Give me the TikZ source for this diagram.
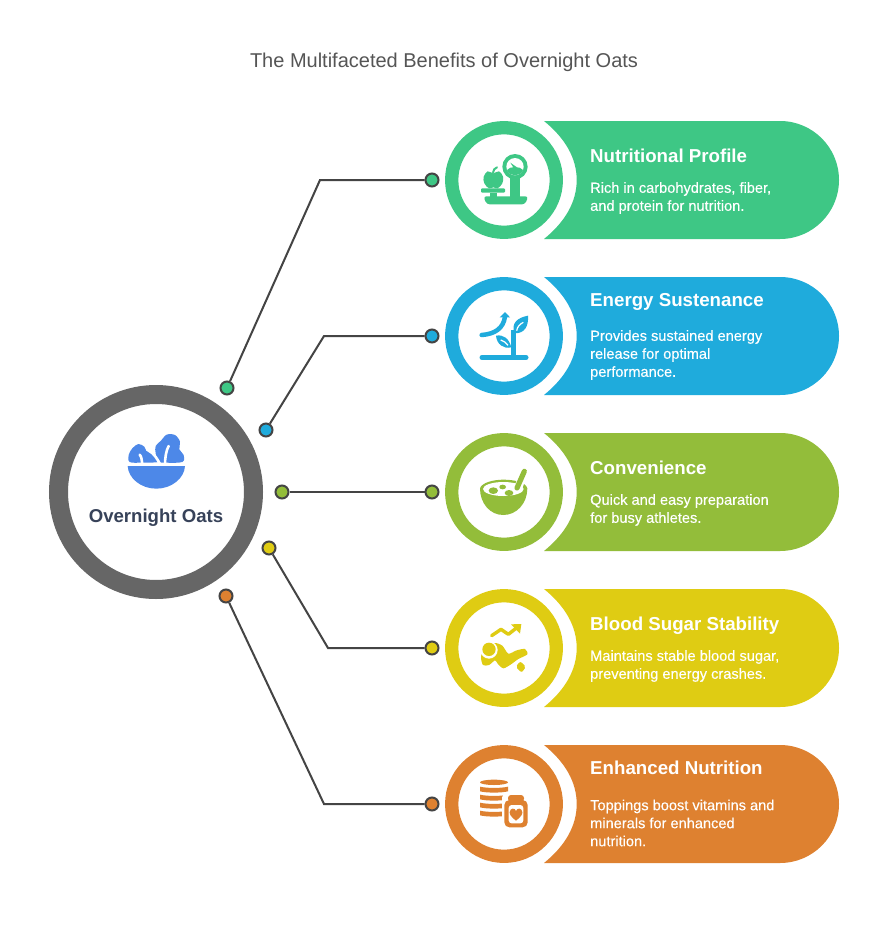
\documentclass[tikz,border=0pt]{standalone}
\usepackage{fontspec}
\setmainfont{Liberation Sans}
\definecolor{cgreen}{HTML}{3EC785}
\definecolor{cblue}{HTML}{1FABDC}
\definecolor{colive}{HTML}{93BD3A}
\definecolor{cyell}{HTML}{DFCC13}
\definecolor{corange}{HTML}{DE8130}
\definecolor{cring}{HTML}{666666}
\definecolor{cline}{HTML}{444444}
\definecolor{cbowl}{HTML}{4D88E8}
\definecolor{cnavy}{HTML}{374259}
\definecolor{ctitle}{HTML}{555555}
\tikzset{
  conn/.style={draw=cline,line width=2pt},
  dotnode/.style={circle,draw=cline,line width=2pt,minimum size=13pt,inner sep=0pt},
  headtxt/.style={anchor=base west,text=white,inner sep=0pt,font=\fontsize{18.7}{22}\selectfont\bfseries},
  desctxt/.style={anchor=west,text=white,inner sep=0pt,align=left,font=\fontsize{14.6}{18}\selectfont\addfontfeature{FakeBold=0.25}},
}
\newcommand{\benefit}[2]{%
  \fill[#1] (544,#2-59) -- (780,#2-59) arc[start angle=-90,end angle=90,radius=59]
     -- (544,#2+59) .. controls (565,#2+42) and (576.7,#2+22) .. (576.7,#2)
     .. controls (576.7,#2-22) and (565,#2-42) .. (544,#2-59) -- cycle;
  \draw[#1,line width=13.3pt] (504,#2) circle (52.3);
}
\begin{document}
\begin{tikzpicture}[x=1pt,y=-1pt]
\useasboundingbox (0,0) rectangle (888,942);
\fill[white] (0,0) rectangle (888,942);
\node[text=ctitle,font=\fontsize{20}{24}\selectfont] (title) at (444,62) {The Multifaceted Benefits of Overnight Oats};

% central ring
\draw[cring,line width=19pt] (156,492) circle (97.5);
\node[text=cnavy,font=\fontsize{18.6}{22}\selectfont\bfseries] (centre) at (156,518) {Overnight Oats};

% salad icon
\begin{scope}[shift={(125,430)},x=0.33333pt,y=-0.33333pt]
\fill[cbowl] (8,108) -- (180,108) .. controls (178,145) and (140,176) .. (94,176) .. controls (48,176) and (10,145) .. (8,108) -- cycle;
\fill[cbowl] plot[smooth cycle,tension=0.55] coordinates {(14,96) (11,75) (22,55) (40,42) (58,50) (64,63) (82,72) (92,84) (100,96) (50,98)};
\fill[cbowl] plot[smooth cycle,tension=0.55] coordinates {(92,70) (92,48) (108,32) (125,14) (150,15) (165,35) (163,58) (176,75) (172,96) (120,98) (100,95)};
\draw[white,line width=2.6pt,line cap=round] (72,62) .. controls (88,72) and (96,85) .. (106,104);
\draw[white,line width=2.6pt,line cap=round] (44,74) .. controls (50,80) and (50,90) .. (52,104);
\draw[white,line width=2.6pt,line cap=round] (131,48) .. controls (123,62) and (120,85) .. (120,104);
\end{scope}

% benefit shapes
\benefit{cgreen}{180}
\benefit{cblue}{336}
\benefit{colive}{492}
\benefit{cyell}{648}
\benefit{corange}{804}

% texts
\node[headtxt] (h1) at (590,162) {Nutritional Profile};
\node[desctxt] (d1) at (590,198) {Rich in carbohydrates, fiber,\\and protein for nutrition.};
\node[headtxt] (h2) at (590,306) {Energy Sustenance};
\node[desctxt] (d2) at (590,355) {Provides sustained energy\\release for optimal\\performance.};
\node[headtxt] (h3) at (590,474) {Convenience};
\node[desctxt] (d3) at (590,510) {Quick and easy preparation\\for busy athletes.};
\node[headtxt] (h4) at (590,630) {Blood Sugar Stability};
\node[desctxt] (d4) at (590,666) {Maintains stable blood sugar,\\preventing energy crashes.};
\node[headtxt] (h5) at (590,774) {Enhanced Nutrition};
\node[desctxt] (d5) at (590,823) {Toppings boost vitamins and\\minerals for enhanced\\nutrition.};

% connectors
\node[dotnode,fill=cgreen] (a1) at (227,388) {};
\node[dotnode,fill=cgreen] (b1) at (432,180) {};
\coordinate (k1) at (320,180);
\node[dotnode,fill=cblue] (a2) at (266,430) {};
\node[dotnode,fill=cblue] (b2) at (432,336) {};
\coordinate (k2) at (324,336);
\node[dotnode,fill=colive] (a3) at (282,492) {};
\node[dotnode,fill=colive] (b3) at (432,492) {};
\node[dotnode,fill=cyell] (a4) at (269,548) {};
\node[dotnode,fill=cyell] (b4) at (432,648) {};
\coordinate (k4) at (328,648);
\node[dotnode,fill=corange] (a5) at (226,596) {};
\node[dotnode,fill=corange] (b5) at (432,804) {};
\coordinate (k5) at (324,804);
\draw[conn] (a1) -- (k1) -- (b1);
\draw[conn] (a2) -- (k2) -- (b2);
\draw[conn] (a3) -- (b3);
\draw[conn] (a4) -- (k4) -- (b4);
\draw[conn] (a5) -- (k5) -- (b5);

% icon 1: scale and apple
\begin{scope}[shift={(475,150)},x=0.33333pt,y=-0.33333pt]
\fill[cgreen] plot[smooth cycle,tension=0.6] coordinates {(55,70) (72,64) (84,80) (82,100) (68,115) (55,112) (42,115) (28,100) (26,80) (38,64)};
\draw[cgreen,line width=2pt,line cap=round] (54,68) .. controls (55,60) and (59,54) .. (66,52);
\fill[cgreen,rounded corners=1pt] (18,115) rectangle (90,128);
\fill[cgreen] (45,128) rectangle (65,142);
\fill[cgreen,rounded corners=3pt] (25,139) -- (160,139) -- (150,163) -- (35,163) -- cycle;
\fill[cgreen] plot coordinates {(106,80) (136,80) (136,142) (106,142)};
\fill[cgreen] (120,50) circle (38);
\fill[white] (120,50) circle (26);
\fill[cgreen] (96,60) .. controls (105,48) and (135,48) .. (144,60) .. controls (140,80) and (100,80) .. (96,60) -- cycle;
\fill[cgreen] (116,54) -- (106,38) -- (126,52) -- cycle;
\end{scope}

% icon 2: sprout and arrow
\begin{scope}[shift={(440,270)},x=0.33333pt,y=-0.33333pt]
\draw[cblue,line width=5pt,line cap=round] (126,262.5) -- (258,262.5);
\draw[cblue,line width=5.2pt] (220,262) -- (220,180);
\draw[cblue,line width=4.5pt,line cap=round] (125,195) .. controls (165,192) and (190,175) .. (195,140);
\fill[cblue] (179,142) -- (195,126) -- (210,142) -- cycle;
\fill[cblue] (224,190) .. controls (212,160) and (232,143) .. (264,137) .. controls (266,168) and (255,190) .. (224,190) -- cycle;
\draw[white,line width=1.2pt] (230,182) .. controls (232,170) and (240,162) .. (250,157);
\fill[cblue] (214,232) .. controls (207,205) and (190,193) .. (168,197) .. controls (170,222) and (190,238) .. (214,232) -- cycle;
\draw[white,line width=1.2pt] (182,210) .. controls (190,212) and (198,218) .. (204,226);
\end{scope}

% icon 3: bowl and spoon
\begin{scope}[shift={(440,430)},x=0.33333pt,y=-0.33333pt]
\fill[colive] (120,175) .. controls (125,158) and (160,149) .. (190,149) .. controls (225,149) and (258,158) .. (262,175)
  .. controls (262,220) and (230,255) .. (190,255) .. controls (150,255) and (120,220) .. (120,175) -- cycle;
\fill[white] (190,177) ellipse (61 and 21);
\fill[colive] (160,182) ellipse (14 and 10) (188,171) ellipse (10 and 7) (207,189) ellipse (13 and 9);
\draw[white,line width=8pt] (232,180) -- (252,128);
\draw[colive,line width=5.2pt,line cap=round] (231,174) -- (253,124);
\end{scope}

% icon 4: sugar trend
\begin{scope}[shift={(475,615)},x=0.33333pt,y=-0.33333pt]
\draw[cyell,line width=3.4pt,line cap=round,line join=round] (50,62) -- (78,43) -- (100,58) -- (128,36);
\fill[cyell] (108,28) -- (139,27) -- (135,56) -- cycle;
\fill[cyell] plot[smooth cycle,tension=0.45] coordinates {(58,84) (82,92) (100,116) (125,106) (150,102) (157,118) (130,132) (108,148) (85,160) (68,146) (60,136) (42,150) (24,150) (18,125) (30,100)};
\fill[white] (42,105) circle (26);
\fill[cyell] (42,103) circle (20);
\fill[cyell,rounded corners=2pt] (136,139) -- (153,155) -- (140,173) -- (122,155) -- cycle;
\end{scope}

% icon 5: stack and bottle
\begin{scope}[shift={(440,740)},x=0.33333pt,y=-0.33333pt]
\fill[corange] (162,127) ellipse (42 and 8);
\foreach \yy in {140,164,188,212}{
  \fill[corange] (120,\yy) .. controls (140,\yy+5) and (184,\yy+5) .. (204,\yy) -- (204,\yy+14) .. controls (184,\yy+19) and (140,\yy+19) .. (120,\yy+14) -- cycle;
}
\fill[white,rounded corners=5pt] (186,158) rectangle (270,270);
\fill[corange,rounded corners=3pt] (204,165) rectangle (252,185);
\fill[corange,rounded corners=5pt] (193,180) rectangle (263,262);
\fill[white,rounded corners=3pt] (206,195) rectangle (250,250);
\fill[corange] (228,242) .. controls (213,231) and (208,222) .. (209,216) .. controls (211,203) and (225,203) .. (228,213)
  .. controls (231,203) and (245,203) .. (247,216) .. controls (248,222) and (243,231) .. (228,242) -- cycle;
\end{scope}
\end{tikzpicture}
\end{document}
